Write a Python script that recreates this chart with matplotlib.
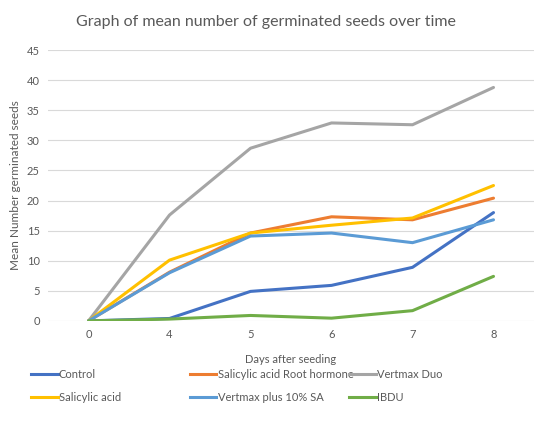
import matplotlib
matplotlib.use("Agg")
import matplotlib.pyplot as plt
from matplotlib.lines import Line2D

plt.rcParams['font.family'] = ['Lato', 'DejaVu Sans']

days = ['0', '4', '5', '6', '7', '8']
control = [0, 0.4, 4.9, 5.9, 8.9, 18.0]
sal_root = [0, 8.1, 14.6, 17.3, 16.8, 20.4]
vertmax_duo = [0, 17.6, 28.7, 32.9, 32.6, 38.8]
salicylic = [0, 10.1, 14.6, 15.9, 17.1, 22.5]
vertmax_sa = [0, 8.0, 14.1, 14.6, 13.0, 16.8]
ibdu = [0, 0.3, 0.9, 0.45, 1.7, 7.4]

series = [
    ('Control', control, '#4472C4'),
    ('Salicylic acid Root hormone', sal_root, '#ED7D31'),
    ('Vertmax Duo', vertmax_duo, '#A5A5A5'),
    ('Salicylic acid', salicylic, '#FFC000'),
    ('Vertmax plus 10% SA', vertmax_sa, '#5B9BD5'),
    ('IBDU', ibdu, '#70AD47'),
]

fig = plt.figure(figsize=(5.34, 4.25), dpi=100)
ax = fig.add_axes([0.09, 0.245, 0.91, 0.637])
x = range(len(days))
for name, vals, col in series:
    ax.plot(x, vals, color=col, lw=2.2, label=name, solid_capstyle='round')

ax.set_xlim(-0.5, len(days) - 0.5)
ax.set_ylim(0, 45)
ax.set_yticks(range(0, 46, 5))
ax.set_xticks(list(x))
ax.set_xticklabels(days)
ax.grid(axis='y', color='#D9D9D9', lw=0.8)
ax.set_axisbelow(True)
for s in ax.spines.values():
    s.set_visible(False)
ax.tick_params(length=0, labelsize=8, colors='#595959', pad=6)
ax.set_xlabel('Days after seeding', fontsize=8, color='#595959', labelpad=10)
ax.set_ylabel('Mean Number germinated seeds', fontsize=8.5, color='#595959', labelpad=4)
fig.text(0.498, 0.948, 'Graph of mean number of germinated seeds over time',
         ha='center', va='center', fontsize=11.5, color='#595959')

# legend: three columns placed separately
col_x = [0.05, 0.347, 0.645]
for i in range(3):
    hs = []
    for j in (i, i + 3):
        name, vals, col = series[j]
        hs.append(Line2D([], [], color=col, lw=2.2, label=name))
    fig.legend(handles=hs, loc='upper left', bbox_to_anchor=(col_x[i], 0.142),
               frameon=False, fontsize=8, handlelength=2.4, handletextpad=0.1,
               labelspacing=1.1, borderaxespad=0, labelcolor='#595959')

fig.savefig('out.png', dpi=100)
